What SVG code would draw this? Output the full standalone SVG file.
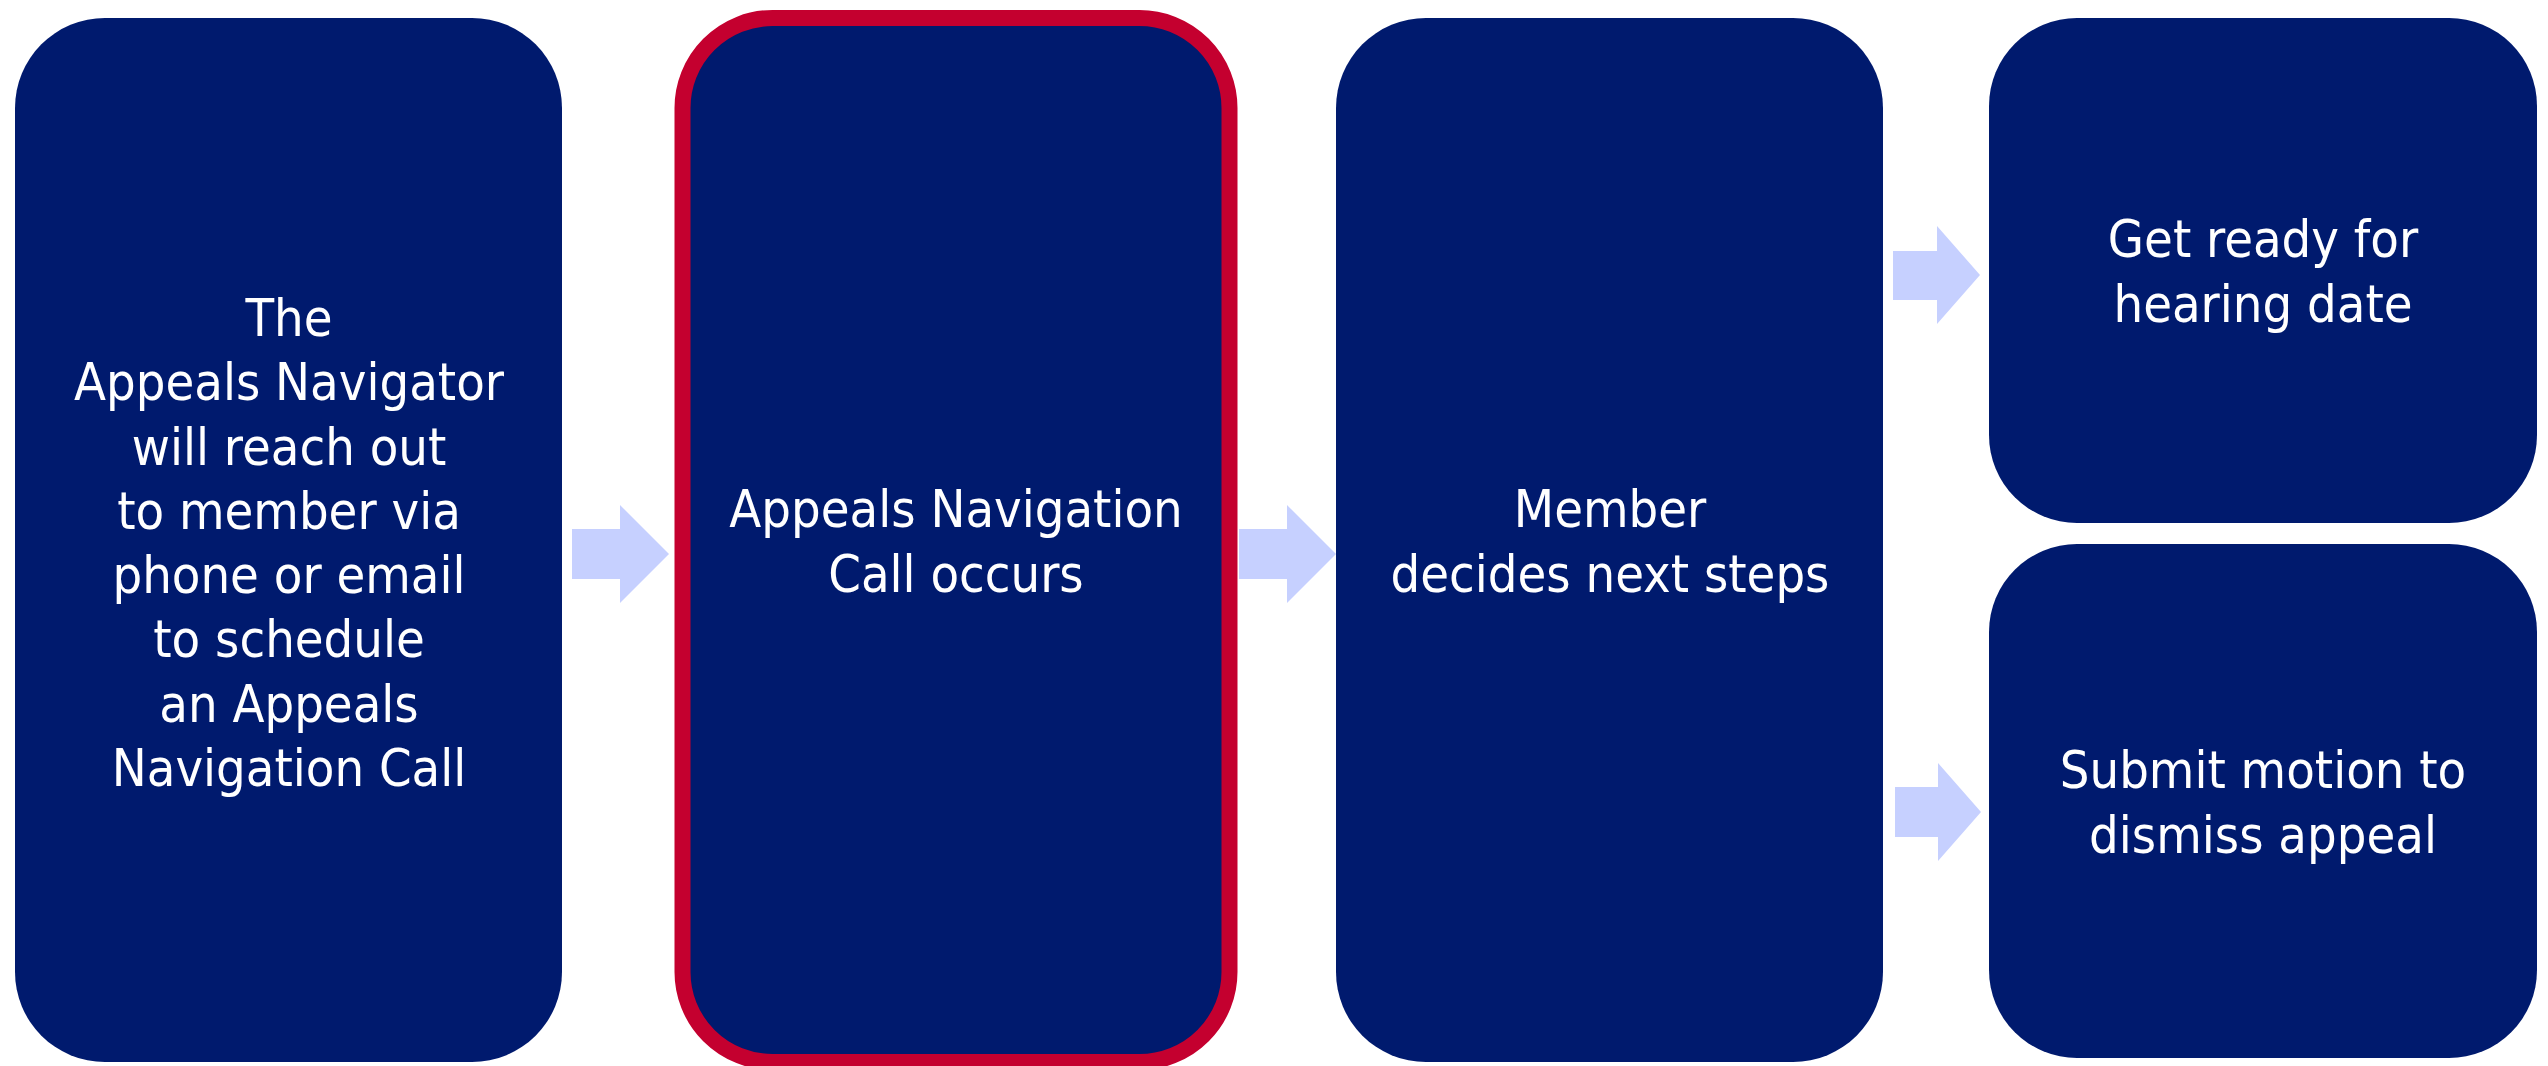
<svg xmlns="http://www.w3.org/2000/svg" width="2548" height="1066" viewBox="0 0 2548 1066">
<style>
.box{fill:#001A6E}
.hl{stroke:#C4002F;stroke-width:16}
.lbl{fill:#FFFFFF;font-family:"DejaVu Sans Condensed","DejaVu Sans","Liberation Sans",sans-serif;font-size:52px;text-anchor:middle}
.arr{fill:#C6D0FF}
</style>
<rect width="2548" height="1066" fill="#FFFFFF"/>
<g id="connectors">
<polygon class="arr" points="572,529 620,529 620,505 669,554 620,603 620,579 572,579"/>
<polygon class="arr" points="1239,529 1287,529 1287,505 1336,554 1287,603 1287,579 1239,579"/>
<polygon class="arr" points="1893,251 1937,251 1937,226 1980,275 1937,324 1937,300 1893,300"/>
<polygon class="arr" points="1895,787 1938,787 1938,763 1981,812 1938,861 1938,837 1895,837"/>
</g>
<g id="node-schedule">
<rect class="box" x="15" y="18" width="547" height="1044" rx="90" ry="90"/>
<text class="lbl" x="289" y="336">The</text>
<text class="lbl" x="289" y="400">Appeals Navigator</text>
<text class="lbl" x="289" y="465">will reach out</text>
<text class="lbl" x="289" y="529">to member via</text>
<text class="lbl" x="289" y="593">phone or email</text>
<text class="lbl" x="289" y="657">to schedule</text>
<text class="lbl" x="289" y="722">an Appeals</text>
<text class="lbl" x="289" y="786">Navigation Call</text>
</g>
<g id="node-call">
<rect class="box hl" x="682.5" y="18" width="547" height="1044" rx="90" ry="90"/>
<text class="lbl" x="956" y="527">Appeals Navigation</text>
<text class="lbl" x="956" y="592">Call occurs</text>
</g>
<g id="node-decide">
<rect class="box" x="1336" y="18" width="547" height="1044" rx="90" ry="90"/>
<text class="lbl" x="1610" y="527">Member</text>
<text class="lbl" x="1610" y="592">decides next steps</text>
</g>
<g id="node-hearing">
<rect class="box" x="1989" y="18" width="548" height="505" rx="88" ry="88"/>
<text class="lbl" x="2263" y="257">Get ready for</text>
<text class="lbl" x="2263" y="322">hearing date</text>
</g>
<g id="node-dismiss">
<rect class="box" x="1989" y="544" width="548" height="514" rx="88" ry="88"/>
<text class="lbl" x="2263" y="788">Submit motion to</text>
<text class="lbl" x="2263" y="853">dismiss appeal</text>
</g>
</svg>
